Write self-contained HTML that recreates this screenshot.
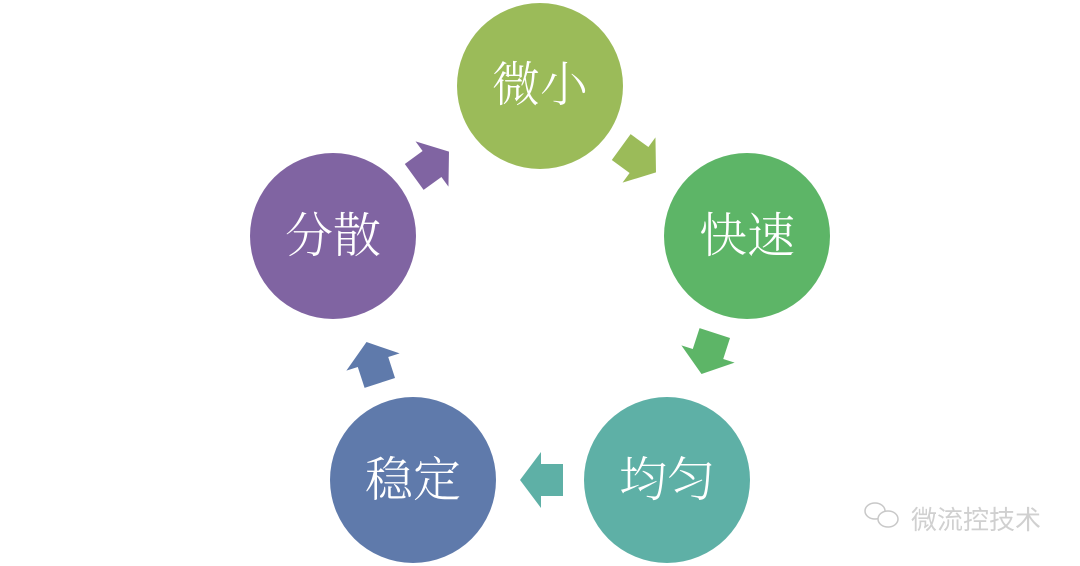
<!DOCTYPE html>
<html><head><meta charset="utf-8"><style>
html,body{margin:0;padding:0;background:#fff;width:1080px;height:566px;overflow:hidden}
text{font-family:"Noto Serif CJK SC","Noto Sans CJK SC",serif;fill:#fff;font-size:48px;font-weight:300}
</style></head><body>
<svg width="1080" height="566" viewBox="0 0 1080 566" xmlns="http://www.w3.org/2000/svg">
<circle cx="540" cy="86" r="83" fill="#9bbb59"/>
<circle cx="747" cy="236" r="83" fill="#5db567"/>
<circle cx="667" cy="480" r="83" fill="#5eb0a6"/>
<circle cx="413" cy="480" r="83" fill="#5f7aab"/>
<circle cx="333" cy="236" r="83" fill="#8064a2"/>
<g>
<polygon transform="translate(541,480) rotate(180)" points="-22,-16 0,-16 0,-28 21,0 0,28 0,16 -22,16" fill="#5eb0a6"/>
<polygon transform="translate(639,160) rotate(36)" points="-22,-16 0,-16 0,-28 21,0 0,28 0,16 -22,16" fill="#9bbb59"/>
<polygon transform="translate(708,354) rotate(108)" points="-22,-16 0,-16 0,-28 21,0 0,28 0,16 -22,16" fill="#5db567"/>
<polygon transform="translate(373,362) rotate(-108)" points="-22,-16 0,-16 0,-28 21,0 0,28 0,16 -22,16" fill="#5f7aab"/>
<polygon transform="translate(432,164) rotate(-36)" points="-22,-16 0,-16 0,-28 21,0 0,28 0,16 -22,16" fill="#8064a2"/>
</g>
<text x="540" y="101" text-anchor="middle">微小</text>
<text x="747" y="252" text-anchor="middle">快速</text>
<text x="667" y="496" text-anchor="middle">均匀</text>
<text x="413" y="496" text-anchor="middle">稳定</text>
<text x="333" y="252" text-anchor="middle">分散</text>
<g fill="none" stroke="#c8c8c8" stroke-width="1.5">
<ellipse cx="875" cy="511" rx="10" ry="8"/>
<ellipse cx="888" cy="519" rx="10" ry="8" fill="#fff"/>
</g>
<text x="911" y="529" style="font-family:'Noto Sans CJK SC',sans-serif;font-size:26px;fill:#d0d0d0;font-weight:400">微流控技术</text>
</svg>
</body></html>
